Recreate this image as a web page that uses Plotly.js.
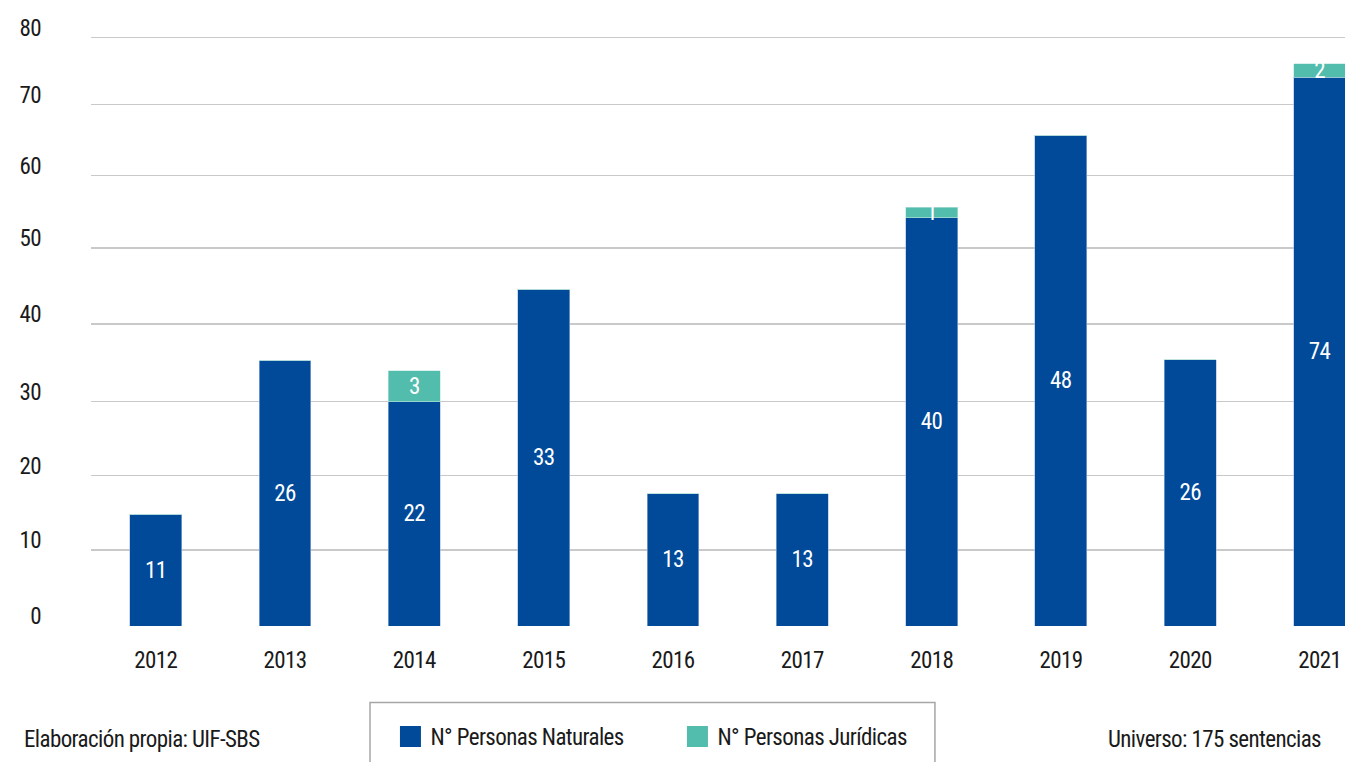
<!DOCTYPE html>
<html>
<head>
<meta charset="utf-8">
<script src="https://cdn.plot.ly/plotly-3.0.1.min.js"></script>
<style>
html, body { margin: 0; padding: 0; background: #fff; overflow: hidden; }
#chart { width: 1345px; height: 762px; }
svg text { font-stretch: condensed !important; letter-spacing: -0.6px; }
</style>
</head>
<body>
<div id="chart"></div>
<script>
// Categories
const years = ['2012', '2013', '2014', '2015', '2016', '2017', '2018', '2019', '2020', '2021'];

// Bar heights as drawn against the chart's axis
const naturalesHeight = [15.2, 36.1, 30.5, 45.8, 18.0, 18.0, 55.5, 66.7, 36.2, 74.6];
const juridicasHeight = [0, 0, 4.2, 0, 0, 0, 1.4, 0, 0, 1.8];

// Labels printed on the bars
const naturalesLabel = ['11', '26', '22', '33', '13', '13', '40', '48', '26', '74'];
const juridicasLabel = ['', '', '3', '', '', '', '1', '', '', '2'];

// Y-axis gridline positions (the reference axis is not evenly spaced) and their labels
const yTickVals = [0, 10.33, 20.46, 30.52, 41.06, 51.39, 61.24, 70.9, 80];
const yTickText = ['0', '10', '20', '30', '40', '50', '60', '70', '80'];

const FONT = '"Roboto Condensed", "Liberation Sans Narrow", Roboto, sans-serif';
const BLUE = '#004a99';
const TEAL = '#52bcad';
const TXT = '#1a1a1a';

const traces = [
  {
    type: 'bar',
    name: 'N° Personas Naturales',
    x: years,
    y: naturalesHeight,
    text: naturalesLabel,
    textposition: 'inside',
    insidetextanchor: 'middle',
    textangle: 0,
    constraintext: 'none',
    textfont: { family: FONT, size: 23, color: '#ffffff' },
    marker: { color: BLUE, line: { color: '#a9bedd', width: 0.6 } },
    hoverinfo: 'skip'
  },
  {
    type: 'bar',
    name: 'N° Personas Jurídicas',
    x: years,
    y: juridicasHeight,
    text: juridicasLabel,
    textposition: 'inside',
    insidetextanchor: 'middle',
    textangle: 0,
    constraintext: 'none',
    textfont: { family: FONT, size: 23, color: '#ffffff' },
    marker: { color: TEAL, line: { color: '#bfe6df', width: 0.6 } },
    hoverinfo: 'skip'
  }
];

const layout = {
  width: 1345,
  height: 762,
  margin: { l: 91, r: 0, t: 30, b: 136 },
  paper_bgcolor: '#ffffff',
  plot_bgcolor: '#ffffff',
  barmode: 'stack',
  bargap: 0.598,
  showlegend: true,
  font: { family: FONT, size: 23, color: TXT },
  xaxis: {
    type: 'category',
    range: [-0.5, 9.196],
    showgrid: false,
    zeroline: false,
    showline: false,
    ticks: '',
    ticklabelstandoff: 18,
    tickfont: { family: FONT, size: 23, color: TXT },
    fixedrange: true
  },
  yaxis: {
    range: [0, 81.02],
    tickmode: 'array',
    tickvals: yTickVals,
    ticktext: yTickText,
    showgrid: true,
    gridcolor: '#c9c9c9',
    gridwidth: 1.5,
    zeroline: false,
    showline: false,
    ticks: '',
    ticklabelstandoff: 49,
    ticklabelshift: -10,
    tickfont: { family: FONT, size: 23, color: TXT },
    fixedrange: true
  },
  legend: {
    orientation: 'h',
    x: 0.2388,
    xanchor: 'left',
    y: -0.1854,
    yanchor: 'middle',
    bgcolor: 'rgba(0,0,0,0)',
    borderwidth: 0,
    entrywidth: 242,
    entrywidthmode: 'pixels',
    font: { family: FONT, size: 23, color: TXT },
    traceorder: 'normal'
  },
  shapes: [
    {
      type: 'rect',
      xref: 'paper', yref: 'paper',
      x0: 0.2225, x1: 0.673,
      y0: -0.3, y1: -0.1284,
      line: { color: '#a6a6a6', width: 1.5 },
      fillcolor: 'rgba(0,0,0,0)',
      layer: 'below'
    }
  ],
  annotations: [
    {
      text: 'Elaboración propia: UIF-SBS',
      xref: 'paper', yref: 'paper',
      x: -0.055, y: -0.191,
      xanchor: 'left', yanchor: 'middle',
      showarrow: false,
      font: { family: FONT, size: 23, color: TXT }
    },
    {
      text: 'Universo: 175 sentencias',
      xref: 'paper', yref: 'paper',
      x: 0.9825, y: -0.191,
      xanchor: 'right', yanchor: 'middle',
      showarrow: false,
      font: { family: FONT, size: 23, color: TXT }
    }
  ]
};

Plotly.newPlot('chart', traces, layout, { displayModeBar: false, staticPlot: true }).then(function (gd) {
  // enlarge the legend colour squares to the reference's size
  gd.querySelectorAll('g.legendpoints path').forEach(function (p) {
    const t = p.getAttribute('transform') || '';
    p.setAttribute('transform', t + ' scale(1.75)');
    p.style.strokeWidth = '0px';
  });
});
</script>
</body>
</html>
